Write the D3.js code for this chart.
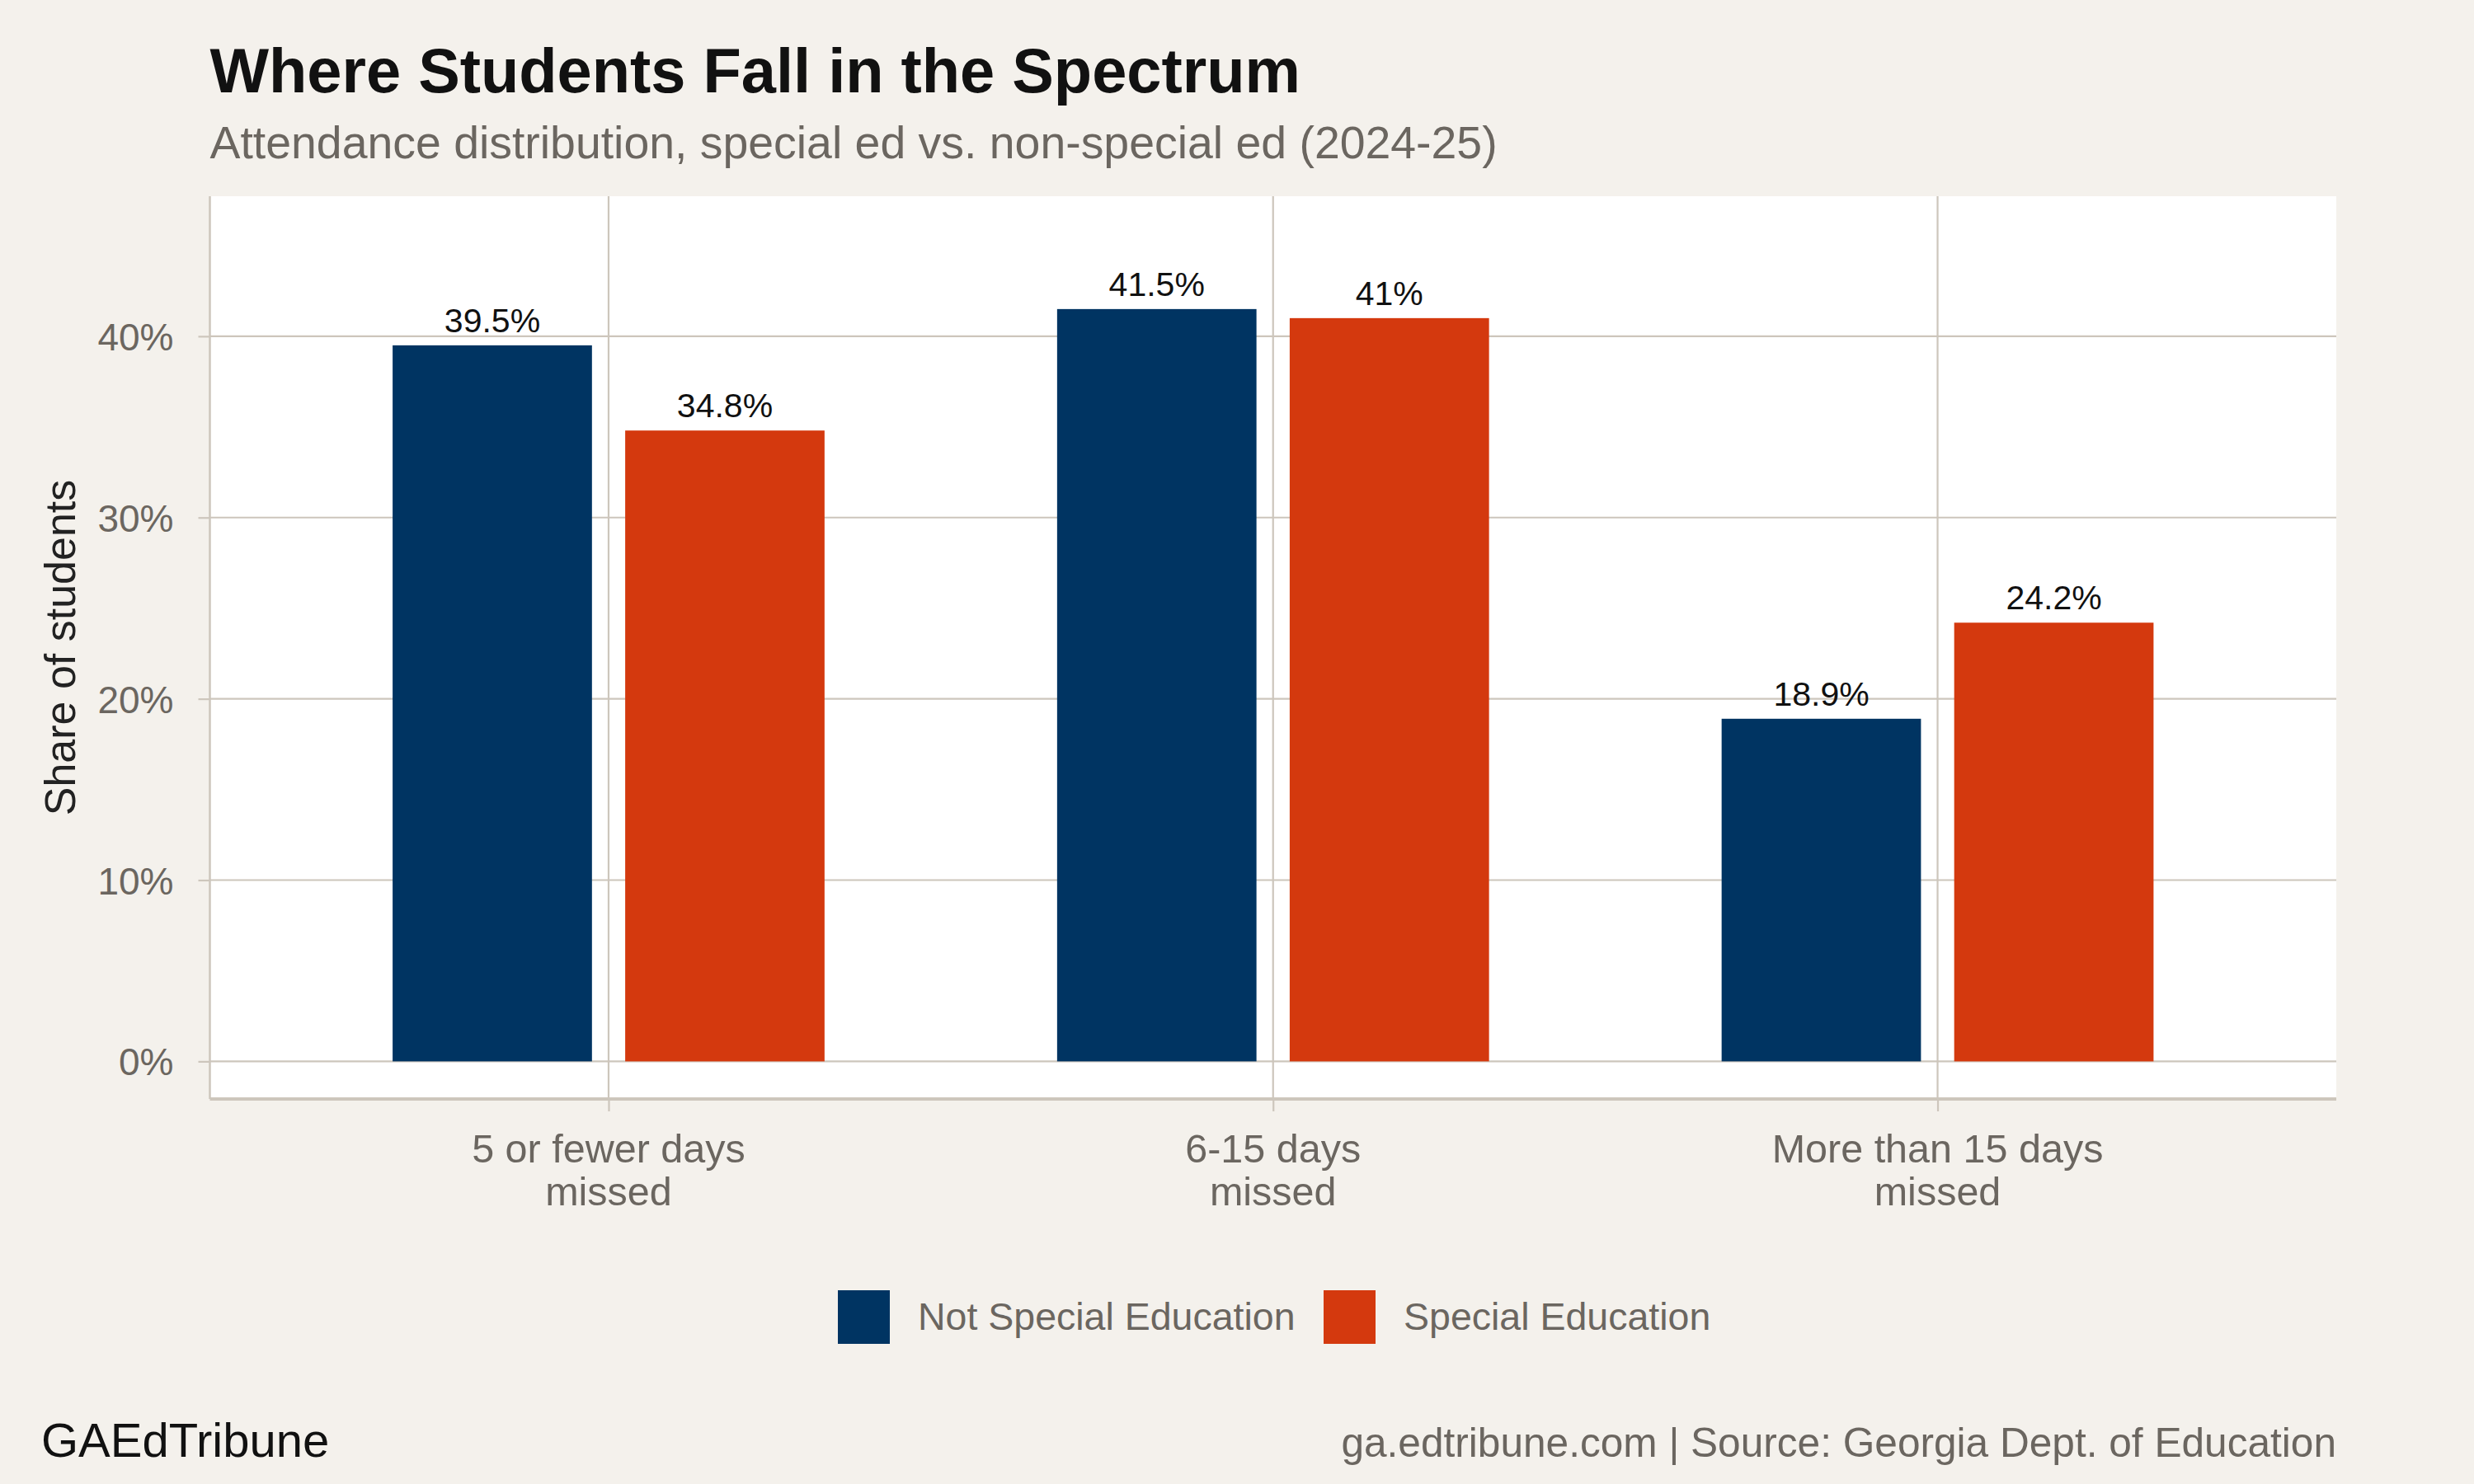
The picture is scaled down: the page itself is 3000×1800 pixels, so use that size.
<!DOCTYPE html>
<html>
<head>
<meta charset="utf-8">
<script src="https://cdn.jsdelivr.net/npm/d3@7"></script>
<style>
  body { margin: 0; background: #f4f1ec; }
  svg { display: block; font-family: "Liberation Sans", Arial, Helvetica, sans-serif; }
  .grid line { stroke: #cdc6bc; stroke-width: 2.2; }
  .tick-lbl { fill: #6b6660; }
</style>
</head>
<body>
<svg id="chart" width="3000" height="1800"></svg>
<script>
// categories and series
var categories = ["5 or fewer days missed", "6-15 days missed", "More than 15 days missed"];
var categoryLines = [["5 or fewer days", "missed"], ["6-15 days", "missed"], ["More than 15 days", "missed"]];
var seriesNames = ["Not Special Education", "Special Education"];
var notSpecialEd = [39.5, 41.5, 18.9];
var specialEd = [34.8, 41.0, 24.2];
var yTicks = [0, 10, 20, 30, 40];
var colors = ["#003462", "#d4390e"];

var svg = d3.select("#chart");
var W = 3000, H = 1800;

// Plot panel box
var panel = { left: 254.5, right: 2833, top: 238, bottom: 1333 };

svg.append("rect").attr("width", W).attr("height", H).attr("fill", "#f4f1ec");
svg.append("rect")
  .attr("x", panel.left).attr("y", panel.top)
  .attr("width", panel.right - panel.left).attr("height", panel.bottom - panel.top)
  .attr("fill", "#ffffff");

// Scales: y expanded 5% below, 15% above the max value
var yMax = d3.max(notSpecialEd.concat(specialEd));
var y = d3.scaleLinear()
  .domain([-0.05 * yMax, 1.15 * yMax])
  .range([panel.bottom, panel.top]);

var x = d3.scalePoint()
  .domain(categories)
  .range([panel.left, panel.right])
  .padding(0.6);

var step = x.step();
var inner = d3.scaleBand()
  .domain(seriesNames)
  .range([-0.35 * step, 0.35 * step])
  .paddingInner(1 / 7)
  .paddingOuter(1 / 14);

// Gridlines
var grid = svg.append("g").attr("class", "grid");
grid.selectAll(".hgrid")
  .data(yTicks)
  .enter().append("line")
  .attr("x1", panel.left).attr("x2", panel.right)
  .attr("y1", function(d) { return y(d); })
  .attr("y2", function(d) { return y(d); });
grid.selectAll(".vgrid")
  .data(categories)
  .enter().append("line")
  .attr("y1", panel.top).attr("y2", panel.bottom)
  .attr("x1", function(d) { return x(d); })
  .attr("x2", function(d) { return x(d); });

// Bars
var rows = categories.map(function(c, i) {
  return { cat: c, values: [notSpecialEd[i], specialEd[i]] };
});

var group = svg.append("g").selectAll("g")
  .data(rows)
  .enter().append("g")
  .attr("transform", function(d) { return "translate(" + x(d.cat) + ",0)"; });

var bar = group.selectAll("g")
  .data(function(d) {
    return d.values.map(function(v, j) { return { series: seriesNames[j], value: v, idx: j }; });
  })
  .enter().append("g");

bar.append("rect")
  .attr("x", function(d) { return inner(d.series); })
  .attr("width", inner.bandwidth())
  .attr("y", function(d) { return y(d.value); })
  .attr("height", function(d) { return y(0) - y(d.value); })
  .attr("fill", function(d) { return colors[d.idx]; });

bar.append("text")
  .text(function(d) { return d.value + "%"; })
  .attr("x", function(d) { return inner(d.series) + inner.bandwidth() / 2; })
  .attr("y", function(d) { return y(d.value) - 16; })
  .attr("text-anchor", "middle")
  .attr("font-size", 41)
  .attr("fill", "#111111");

// Axis lines
svg.append("line")
  .attr("x1", panel.left).attr("x2", panel.left)
  .attr("y1", panel.top).attr("y2", panel.bottom)
  .attr("stroke", "#cdc6bc").attr("stroke-width", 2.5);
svg.append("line")
  .attr("x1", panel.left).attr("x2", panel.right)
  .attr("y1", panel.bottom).attr("y2", panel.bottom)
  .attr("stroke", "#cdc6bc").attr("stroke-width", 4);

// Y axis
var yAxis = svg.append("g")
  .attr("transform", "translate(" + panel.left + ",0)")
  .call(d3.axisLeft(y).tickValues(yTicks).tickSize(14).tickPadding(30)
    .tickFormat(function(d) { return d + "%"; }));
yAxis.select(".domain").remove();
yAxis.selectAll(".tick line").attr("stroke", "#cdc6bc").attr("stroke-width", 2.2);
yAxis.selectAll(".tick text")
  .attr("class", "tick-lbl")
  .attr("font-size", 46)
  .attr("font-family", "Liberation Sans, Arial, sans-serif")
  .attr("dy", "0.36em");

// X axis
var xAxis = svg.append("g")
  .attr("transform", "translate(0," + panel.bottom + ")")
  .call(d3.axisBottom(x).tickSize(15).tickFormat(""));
xAxis.select(".domain").remove();
xAxis.selectAll(".tick line").attr("stroke", "#cdc6bc").attr("stroke-width", 2.2);
xAxis.selectAll(".tick text").remove();
svg.append("g").selectAll("text")
  .data(categories)
  .enter().append("text")
  .attr("class", "tick-lbl")
  .attr("text-anchor", "middle")
  .attr("font-size", 48.5)
  .attr("x", function(d) { return x(d); })
  .attr("y", 1410)
  .each(function(d, i) {
    var t = d3.select(this);
    categoryLines[i].forEach(function(line, k) {
      t.append("tspan")
        .attr("x", x(d))
        .attr("dy", k === 0 ? 0 : 52)
        .text(line);
    });
  });

// Y axis title
svg.append("text")
  .attr("transform", "translate(91," + (panel.top + panel.bottom) / 2 + ") rotate(-90)")
  .attr("text-anchor", "middle")
  .attr("font-size", 52)
  .attr("fill", "#222222")
  .text("Share of students");

// Title and subtitle
svg.append("text")
  .attr("x", panel.left).attr("y", 112)
  .attr("font-size", 75.8).attr("font-weight", "bold")
  .attr("fill", "#111111")
  .text("Where Students Fall in the Spectrum");
svg.append("text")
  .attr("x", panel.left).attr("y", 192)
  .attr("font-size", 55.4)
  .attr("fill", "#6b6660")
  .text("Attendance distribution, special ed vs. non-special ed (2024-25)");

// Legend
var legend = svg.append("g");
var keyW = 63, keyH = 65, legendY = 1565;
var legendX = [1016, 1605];
seriesNames.forEach(function(name, i) {
  legend.append("rect")
    .attr("x", legendX[i]).attr("y", legendY)
    .attr("width", keyW).attr("height", keyH)
    .attr("fill", colors[i]);
  legend.append("text")
    .attr("x", legendX[i] + keyW + 34).attr("y", legendY + 48)
    .attr("font-size", 46.5)
    .attr("class", "tick-lbl")
    .text(name);
});

// Footer
svg.append("text")
  .attr("x", 50).attr("y", 1767)
  .attr("font-size", 58)
  .attr("fill", "#111111")
  .text("GAEdTribune");
svg.append("text")
  .attr("x", panel.right).attr("y", 1767)
  .attr("text-anchor", "end")
  .attr("font-size", 49.6)
  .attr("fill", "#6b6660")
  .text("ga.edtribune.com | Source: Georgia Dept. of Education");
</script>
</body>
</html>
